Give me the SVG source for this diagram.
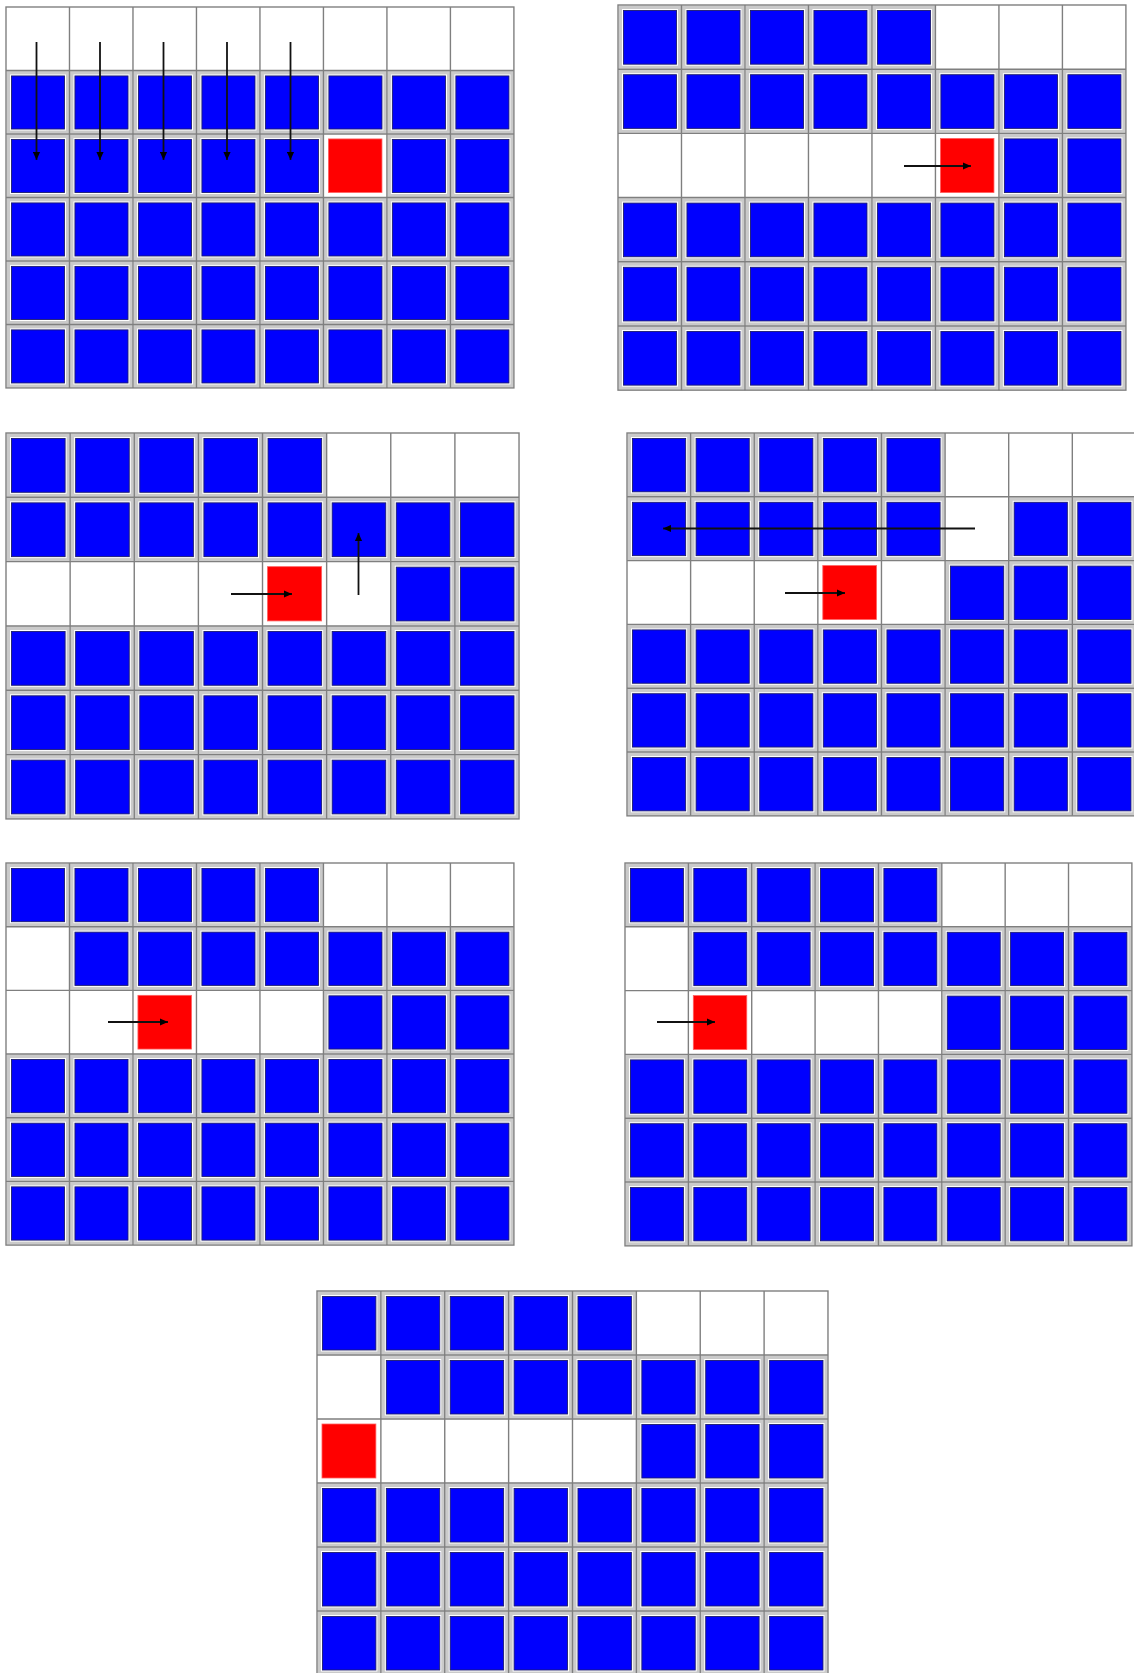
<svg xmlns="http://www.w3.org/2000/svg" xmlns:xlink="http://www.w3.org/1999/xlink" width="1134" height="1673" viewBox="0 0 1134 1673">
<style>
.bg{fill:#ffffff}
.gl{fill:none;stroke:#7f7f7f;stroke-width:1.4}
.ar{fill:none;stroke:#111111;stroke-width:1.8}
</style>
<defs>
<marker id="ah" viewBox="0 0 10 10" refX="10" refY="5" markerWidth="9" markerHeight="8" orient="auto" markerUnits="userSpaceOnUse"><path d="M0,0.5 L10,5 L0,9.5 z" fill="#000"/></marker>
<g id="b"><rect x="0.5" y="0.5" width="63" height="63" fill="#cacaca"/><rect x="4" y="4" width="56.5" height="56.5" fill="#ffffff"/><rect x="5.5" y="5.5" width="53.5" height="53.5" fill="#0000fe" stroke="#1c1c6e" stroke-width="0.9"/></g>
<g id="r"><rect x="5" y="5" width="54" height="54" fill="#ff0000" stroke="#ff6060" stroke-width="0.8"/></g>
<g id="row"><use href="#b" x="0"/><use href="#b" x="64"/><use href="#b" x="128"/><use href="#b" x="192"/><use href="#b" x="256"/><use href="#b" x="320"/><use href="#b" x="384"/><use href="#b" x="448"/></g>
<g id="b5"><use href="#b" x="0"/><use href="#b" x="64"/><use href="#b" x="128"/><use href="#b" x="192"/><use href="#b" x="256"/></g>
<g id="base"><use href="#row" y="192"/><use href="#row" y="256"/><use href="#row" y="320"/></g>
<g id="grid"><rect class="gl" x="0" y="0" width="512" height="384"/><path class="gl" d="M64,0V384M128,0V384M192,0V384M256,0V384M320,0V384M384,0V384M448,0V384M0,64H512M0,128H512M0,192H512M0,256H512M0,320H512"/></g>
</defs>
<rect width="1134" height="1673" fill="#ffffff"/>

<g id="panel1" transform="translate(6,7) scale(0.992,0.992)">
<rect class="bg" width="512" height="384"/>
<use href="#row" y="64"/>
<use href="#b5" y="128"/><use href="#r" x="320" y="128"/><use href="#b" x="384" y="128"/><use href="#b" x="448" y="128"/>
<use href="#base"/>
<use href="#grid"/>
</g>

<g id="panel2" transform="translate(618,5) scale(0.992,1.003)">
<rect class="bg" width="512" height="384"/>
<use href="#b5" y="0"/>
<use href="#row" y="64"/>
<use href="#r" x="320" y="128"/><use href="#b" x="384" y="128"/><use href="#b" x="448" y="128"/>
<use href="#base"/>
<use href="#grid"/>
</g>

<g id="panel3" transform="translate(6,433) scale(1.002,1.005)">
<rect class="bg" width="512" height="384"/>
<use href="#b5" y="0"/>
<use href="#row" y="64"/>
<use href="#r" x="256" y="128"/><use href="#b" x="384" y="128"/><use href="#b" x="448" y="128"/>
<use href="#base"/>
<use href="#grid"/>
</g>

<g id="panel4" transform="translate(627,433) scale(0.994,0.997)">
<rect class="bg" width="512" height="384"/>
<use href="#b5" y="0"/>
<use href="#b5" y="64"/><use href="#b" x="384" y="64"/><use href="#b" x="448" y="64"/>
<use href="#r" x="192" y="128"/><use href="#b" x="320" y="128"/><use href="#b" x="384" y="128"/><use href="#b" x="448" y="128"/>
<use href="#base"/>
<use href="#grid"/>
</g>

<g id="panel5" transform="translate(6,863) scale(0.992,0.995)">
<rect class="bg" width="512" height="384"/>
<use href="#b5" y="0"/>
<use href="#b5" x="64" y="64"/><use href="#b" x="384" y="64"/><use href="#b" x="448" y="64"/>
<use href="#r" x="128" y="128"/><use href="#b" x="320" y="128"/><use href="#b" x="384" y="128"/><use href="#b" x="448" y="128"/>
<use href="#base"/>
<use href="#grid"/>
</g>

<g id="panel6" transform="translate(625,863) scale(0.990,0.997)">
<rect class="bg" width="512" height="384"/>
<use href="#b5" y="0"/>
<use href="#b5" x="64" y="64"/><use href="#b" x="384" y="64"/><use href="#b" x="448" y="64"/>
<use href="#r" x="64" y="128"/><use href="#b" x="320" y="128"/><use href="#b" x="384" y="128"/><use href="#b" x="448" y="128"/>
<use href="#base"/>
<use href="#grid"/>
</g>

<g id="panel7" transform="translate(317,1291) scale(0.998,1.0)">
<rect class="bg" width="512" height="384"/>
<use href="#b5" y="0"/>
<use href="#b5" x="64" y="64"/><use href="#b" x="384" y="64"/><use href="#b" x="448" y="64"/>
<use href="#r" x="0" y="128"/><use href="#b" x="320" y="128"/><use href="#b" x="384" y="128"/><use href="#b" x="448" y="128"/>
<use href="#base"/>
<use href="#grid"/>
</g>

<g id="connectors">
<line class="ar" x1="36.5" y1="42" x2="36.5" y2="160" marker-end="url(#ah)"/>
<line class="ar" x1="100" y1="42" x2="100" y2="160" marker-end="url(#ah)"/>
<line class="ar" x1="163.5" y1="42" x2="163.5" y2="160" marker-end="url(#ah)"/>
<line class="ar" x1="227" y1="42" x2="227" y2="160" marker-end="url(#ah)"/>
<line class="ar" x1="290.5" y1="42" x2="290.5" y2="160" marker-end="url(#ah)"/>
<line class="ar" x1="904" y1="166" x2="971" y2="166" marker-end="url(#ah)"/>
<line class="ar" x1="231" y1="594" x2="292" y2="594" marker-end="url(#ah)"/>
<line class="ar" x1="358.5" y1="595" x2="358.5" y2="533" marker-end="url(#ah)"/>
<line class="ar" x1="975" y1="528.5" x2="663" y2="528.5" marker-end="url(#ah)"/>
<line class="ar" x1="785" y1="593" x2="845" y2="593" marker-end="url(#ah)"/>
<line class="ar" x1="108" y1="1022" x2="168" y2="1022" marker-end="url(#ah)"/>
<line class="ar" x1="657" y1="1022" x2="715" y2="1022" marker-end="url(#ah)"/>
</g>
</svg>
